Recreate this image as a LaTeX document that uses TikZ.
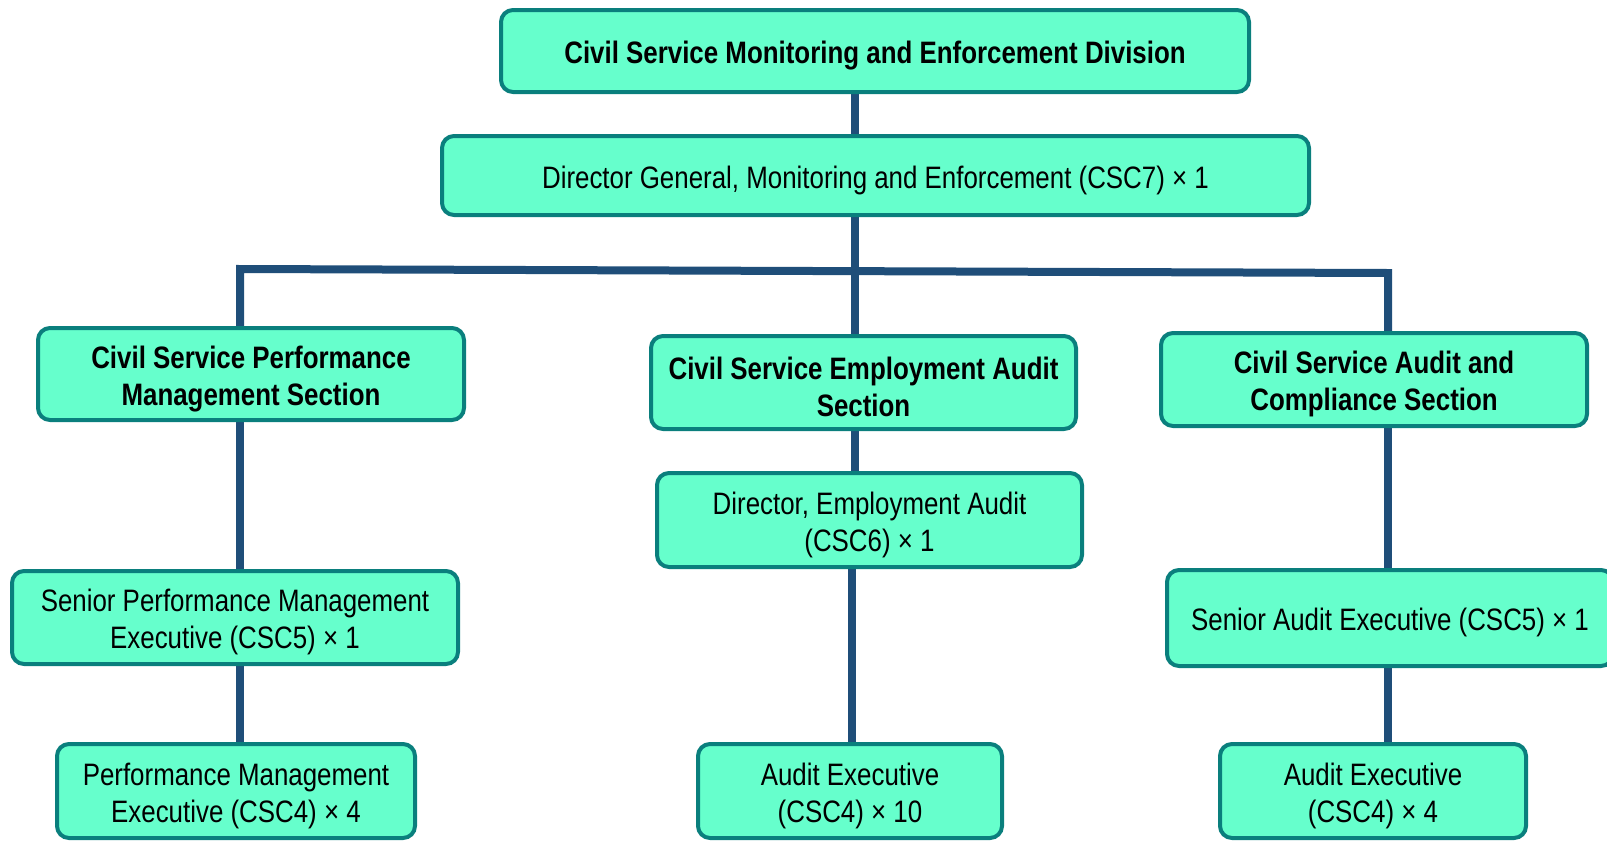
\documentclass[tikz,border=0pt]{standalone}
\usepackage{fontspec}
\setmainfont{Liberation Sans}[FakeStretch=0.835]
\usetikzlibrary{backgrounds}
\definecolor{mint}{HTML}{66FFCC}
\definecolor{tealrim}{HTML}{0A7F7D}
\definecolor{linkblue}{HTML}{1F4E79}
\newcommand\lift{\rule{0pt}{32pt}}
\tikzset{
unit/.style={draw=tealrim, fill=mint, line width=4pt, rounded corners=12pt,
  align=center, inner sep=0pt, font=\fontsize{31}{37}\selectfont},
head/.style={unit, font=\fontsize{31}{37}\selectfont\bfseries},
link/.style={draw=linkblue, line width=8pt}
}
\begin{document}
\begin{tikzpicture}[x=1pt,y=-1pt]
\useasboundingbox (0,0) rectangle (1607,841);
%links
\coordinate (barL) at (240,269);
\coordinate (barM) at (855,270);
\coordinate (barR) at (1388,273);
\coordinate (colM) at (852,700);
% boxes
\node[head, minimum width=748, minimum height=82] (top) at (875,51) {\lift Civil Service Monitoring and Enforcement Division};
\node[unit, minimum width=867, minimum height=79] (dg) at (875.5,175.5) {\lift Director General, Monitoring and Enforcement (CSC7) × 1};
\node[head, minimum width=426, minimum height=92] (pms) at (251,374) {\lift Civil Service Performance\\Management Section};
\node[head, minimum width=425, minimum height=93] (eas) at (863.5,382.5) {\lift Civil Service Employment Audit\\Section};
\node[head, minimum width=426, minimum height=93] (acs) at (1374,379.5) {\lift Civil Service Audit and\\Compliance Section};
\node[unit, minimum width=425, minimum height=94] (dea) at (869.5,520) {\lift Director, Employment Audit\\(CSC6) × 1};
\node[unit, minimum width=446, minimum height=93] (spm) at (235,617.5) {\lift Senior Performance Management\\Executive (CSC5) × 1};
\node[unit, minimum width=446, minimum height=96] (sae) at (1390,618) {\lift Senior Audit Executive (CSC5) × 1};
\node[unit, minimum width=358, minimum height=94] (pme) at (236,791) {\lift Performance Management\\Executive (CSC4) × 4};
\node[unit, minimum width=304, minimum height=94] (ae) at (850,791) {\lift Audit Executive\\(CSC4) × 10};
\node[unit, minimum width=306, minimum height=94] (aec) at (1373,791) {\lift Audit Executive\\(CSC4) × 4};
% connectors behind
\begin{scope}[on background layer]
\draw[link] (top.south -| barM) -- (dg.north -| barM);
\draw[link] (dg.south -| barM) -- (eas.north -| barM);
\draw[link] (pms.north -| barL) -- (barL) -- (barR) -- (acs.north -| barR);
\draw[link] (pms.south -| barL) -- (spm.north -| barL);
\draw[link] (spm.south -| barL) -- (pme.north -| barL);
\draw[link] (eas.south -| barM) -- (dea.north -| barM);
\draw[link] (dea.south -| colM) -- (ae.north -| colM);
\draw[link] (acs.south -| barR) -- (sae.north -| barR);
\draw[link] (sae.south -| barR) -- (aec.north -| barR);
\end{scope}
\end{tikzpicture}
\end{document}
